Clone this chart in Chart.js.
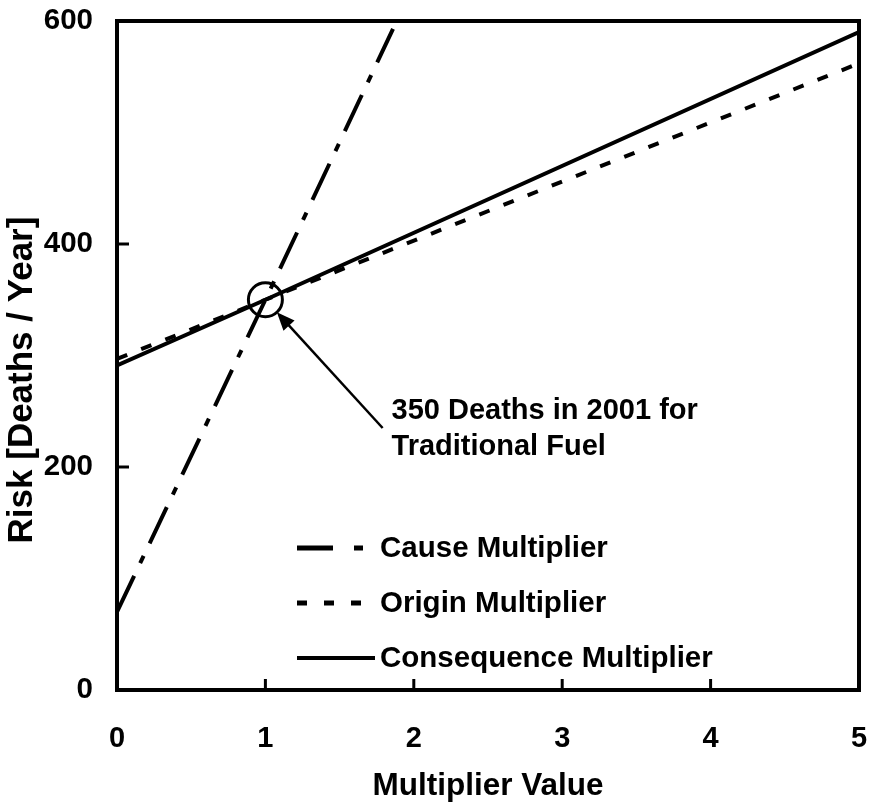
<!DOCTYPE html>
<html>
<head>
<meta charset="utf-8">
<script src="https://cdn.jsdelivr.net/npm/chart.js@4.4.0/dist/chart.umd.min.js"></script>
<style>
  html, body { margin: 0; padding: 0; background: #fff; }
  canvas { display: block; }
</style>
</head>
<body>
<canvas id="riskChart" width="869" height="807"></canvas>
<script>
// Data
const causeX = [0, 1, 1.86];
const causeRisk = [70, 350, 593];
const originX = [0, 1, 5];
const originRisk = [297, 350, 562];
const consequenceX = [0, 1, 5];
const consequenceRisk = [291, 350, 590];
const xTicks = [0, 1, 2, 3, 4, 5];
const yTicks = [0, 200, 400, 600];
const baseCase = { x: 1, y: 350 };
const noteLines = ["350 Deaths in 2001 for", "Traditional Fuel"];
const yTitle = "Risk [Deaths / Year]";

const FONT = "'Liberation Sans', Arial, sans-serif";
const toPoints = (xs, ys) => xs.map((x, i) => ({ x: x, y: ys[i] }));

// frame, inward ticks, legend, y title and annotation
const extras = {
  id: "extras",
  afterDatasetsDraw(chart) {
    const { ctx, chartArea: a, scales: { x, y } } = chart;
    ctx.save();
    ctx.strokeStyle = "#000";
    ctx.fillStyle = "#000";

    // inward tick marks
    ctx.lineWidth = 3;
    ctx.setLineDash([]);
    xTicks.slice(1, -1).forEach(v => {
      const px = x.getPixelForValue(v);
      ctx.beginPath(); ctx.moveTo(px, a.bottom); ctx.lineTo(px, a.bottom - 11); ctx.stroke();
    });
    yTicks.slice(1, -1).forEach(v => {
      const py = y.getPixelForValue(v);
      ctx.beginPath(); ctx.moveTo(a.left, py); ctx.lineTo(a.left + 12, py); ctx.stroke();
    });

    // frame
    ctx.lineWidth = 4;
    ctx.strokeRect(a.left, a.top, a.right - a.left, a.bottom - a.top);

    // legend inside plot
    ctx.font = "bold 29.5px " + FONT;
    ctx.textBaseline = "middle";
    ctx.textAlign = "left";
    const rows = [142, 87, 32];
    chart.data.datasets.forEach((ds, i) => {
      const ly = a.bottom - rows[i];
      ctx.lineWidth = ds.legendWidth || ds.borderWidth;
      ctx.setLineDash(ds.legendDash || ds.borderDash || []);
      ctx.beginPath(); ctx.moveTo(a.left + 180, ly); ctx.lineTo(a.left + 258, ly); ctx.stroke();
      ctx.setLineDash([]);
      ctx.fillText(ds.label, a.left + 263, ly + 1);
    });

    // base case circle + arrow + note
    const cx = x.getPixelForValue(baseCase.x), cy = y.getPixelForValue(baseCase.y);
    const r = 17;
    ctx.lineWidth = 3;
    ctx.beginPath(); ctx.arc(cx, cy, r, 0, Math.PI * 2); ctx.stroke();

    const tx = x.getPixelForValue(1.79), ty = y.getPixelForValue(235);
    const dx = tx - cx, dy = ty - cy, len = Math.hypot(dx, dy);
    const ux = dx / len, uy = dy / len;
    const hx = cx + ux * r, hy = cy + uy * r;
    ctx.lineWidth = 2.5;
    ctx.beginPath(); ctx.moveTo(tx, ty); ctx.lineTo(hx + ux * 10, hy + uy * 10); ctx.stroke();
    const ah = 18, aw = 7.5;
    ctx.beginPath();
    ctx.moveTo(hx, hy);
    ctx.lineTo(hx + ux * ah - uy * aw, hy + uy * ah + ux * aw);
    ctx.lineTo(hx + ux * ah + uy * aw, hy + uy * ah - ux * aw);
    ctx.closePath(); ctx.fill();

    ctx.font = "bold 29px " + FONT;
    const nx = x.getPixelForValue(1.85), ny = y.getPixelForValue(250);
    noteLines.forEach((t, i) => ctx.fillText(t, nx, ny + i * 36));

    // y axis title (sits a bit below the plot centre in the original)
    ctx.font = "bold 35px " + FONT;
    ctx.textAlign = "center";
    ctx.translate(22, y.getPixelForValue(278));
    ctx.rotate(-Math.PI / 2);
    ctx.fillText(yTitle, 0, 0);
    ctx.restore();
  }
};

Chart.defaults.color = "#000";
Chart.defaults.font.family = FONT;

new Chart(document.getElementById("riskChart"), {
  type: "line",
  data: {
    datasets: [
      { label: "Cause Multiplier", data: toPoints(causeX, causeRisk), borderColor: "#000", borderWidth: 4, borderDash: [40, 14, 8, 14], legendDash: [36, 21, 9, 21], legendWidth: 5 },
      { label: "Origin Multiplier", data: toPoints(originX, originRisk), borderColor: "#000", borderWidth: 4, borderDash: [11, 15], legendDash: [10, 17], legendWidth: 5 },
      { label: "Consequence Multiplier", data: toPoints(consequenceX, consequenceRisk), borderColor: "#000", borderWidth: 4 }
    ]
  },
  options: {
    responsive: false,
    animation: false,
    layout: { padding: { top: 21, right: 10, left: 0, bottom: 0 } },
    elements: { point: { radius: 0 }, line: { tension: 0, fill: false } },
    plugins: { legend: { display: false }, tooltip: { enabled: false } },
    scales: {
      x: {
        type: "linear", min: 0, max: 5,
        afterFit: s => { s.height = 117; s.paddingLeft = 0; s.paddingRight = 0; },
        afterBuildTicks: s => { s.ticks = xTicks.map(v => ({ value: v })); },
        grid: { display: false, drawTicks: false },
        border: { display: false },
        ticks: { padding: 32, font: { size: 29, weight: "bold" } },
        title: { display: true, text: "Multiplier Value", padding: { top: 0, bottom: 2 }, font: { size: 31.5, weight: "bold" } }
      },
      y: {
        type: "linear", min: 0, max: 600,
        afterFit: s => { s.width = 117; s.paddingTop = 0; s.paddingBottom = 0; },
        afterBuildTicks: s => { s.ticks = yTicks.map(v => ({ value: v })); },
        grid: { display: false, drawTicks: false },
        border: { display: false },
        ticks: { padding: 24, font: { size: 29.5, weight: "bold" } },
        title: { display: false }
      }
    }
  },
  plugins: [extras]
});
</script>
</body>
</html>
